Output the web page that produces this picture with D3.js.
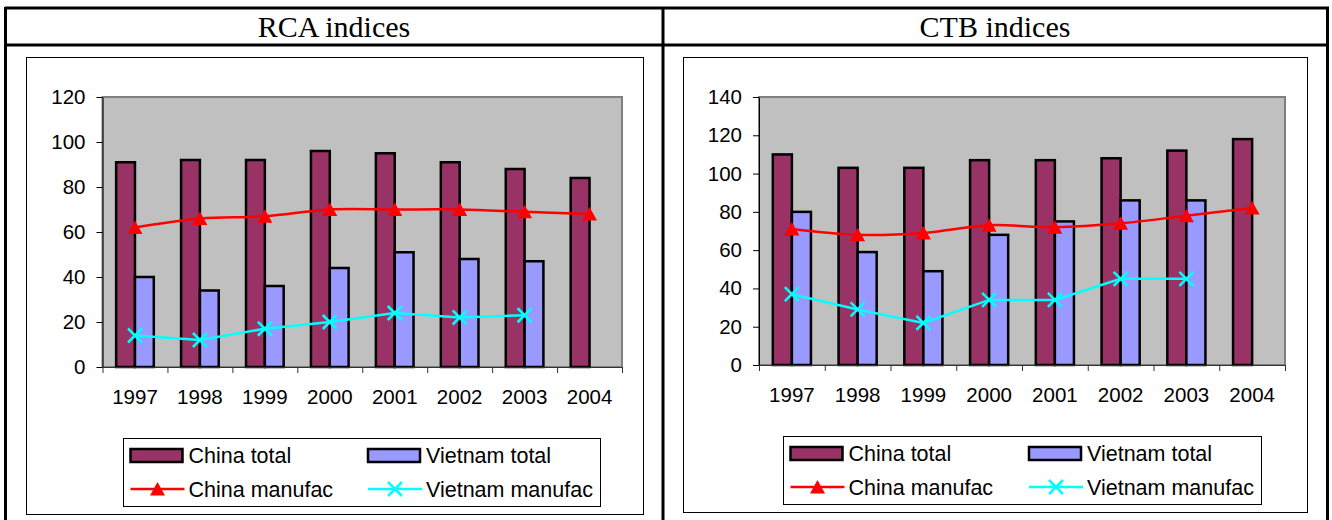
<!DOCTYPE html>
<html>
<head>
<meta charset="utf-8">
<script src="https://cdn.jsdelivr.net/npm/d3@7"></script>
<style>
  body { margin: 0; background: #fff; }
  svg { display: block; }
</style>
</head>
<body>
<svg id="chart" width="1332" height="520"></svg>
<script>
// data
const years = ['1997', '1998', '1999', '2000', '2001', '2002', '2003', '2004']

const rcaChinaTotal = [91, 92, 92, 96, 95, 91, 88, 84]
const rcaVietnamTotal = [40, 34, 36, 44, 51, 48, 47, null]
const rcaChinaManufac = [62, 66, 67, 70, 70, 70, 69, 68]
const rcaVietnamManufac = [14, 12, 17, 20, 24, 22, 23, null]
const rcaTicks = [0, 20, 40, 60, 80, 100, 120]

const ctbChinaTotal = [110, 103, 103, 107, 107, 108, 112, 118]
const ctbVietnamTotal = [80, 59, 49, 68, 75, 86, 86, null]
const ctbChinaManufac = [71, 68, 69, 73, 72, 74, 78, 82]
const ctbVietnamManufac = [37, 29, 22, 34, 34, 45, 45, null]
const ctbTicks = [0, 20, 40, 60, 80, 100, 120, 140]

const seriesNames = ['China total', 'Vietnam total', 'China manufac', 'Vietnam manufac']

const C_CHINA = '#993366'
const C_VIET = '#9999ff'
const C_CHINA_LINE = '#ff0000'
const C_VIET_LINE = '#00ffff'

const SANS = '"Liberation Sans", Arial, sans-serif'
const SERIF = '"Liberation Serif", "Times New Roman", serif'

const svg = d3.select('#chart')

// table frame
const frame = svg.append('g').attr('stroke', '#000').attr('stroke-width', 3)
frame.append('line').attr('x1', 5).attr('x2', 1329).attr('y1', 8).attr('y2', 8)
frame.append('line').attr('x1', 5).attr('x2', 1329).attr('y1', 45).attr('y2', 45)
frame.append('line').attr('x1', 5.5).attr('x2', 5.5).attr('y1', 7).attr('y2', 520)
frame.append('line').attr('x1', 663).attr('x2', 663).attr('y1', 7).attr('y2', 520)
frame.append('line').attr('x1', 1327.5).attr('x2', 1327.5).attr('y1', 7).attr('y2', 520)

svg.append('text').attr('x', 334).attr('y', 37).attr('text-anchor', 'middle')
  .attr('font-family', SERIF).attr('font-size', 30).text('RCA indices')
svg.append('text').attr('x', 995).attr('y', 37).attr('text-anchor', 'middle')
  .attr('font-family', SERIF).attr('font-size', 30).text('CTB indices')

function drawPanel(p) {
  const g = svg.append('g')

  // chart box
  g.append('rect')
    .attr('x', p.box[0] + 0.5).attr('y', p.box[1] + 0.5)
    .attr('width', p.box[2] - p.box[0]).attr('height', p.box[3] - p.box[1])
    .attr('fill', '#fff').attr('stroke', '#000').attr('stroke-width', 1)

  const [px0, py0, px1, py1] = p.plot
  const x = d3.scaleBand().domain(years).range([px0, px1]).padding(0)
  const y = d3.scaleLinear().domain([0, p.ticks[p.ticks.length - 1]]).range([py1, py0])
  const xi = d3.scaleLinear().domain([0, years.length]).range([px0, px1])

  // plot area
  g.append('rect')
    .attr('x', px0).attr('y', py0).attr('width', px1 - px0).attr('height', py1 - py0)
    .attr('fill', '#c0c0c0').attr('stroke', '#808080').attr('stroke-width', 2)

  // bars
  const bw = x.bandwidth() / 3.45
  const bars = g.append('g').attr('stroke', '#000').attr('stroke-width', 2.5)
  bars.selectAll('.cb').data(years).join('rect')
    .attr('x', d => x(d) + x.bandwidth() / 2 - bw)
    .attr('y', (d, i) => y(p.chinaTotal[i]))
    .attr('width', bw)
    .attr('height', (d, i) => y(0) - y(p.chinaTotal[i]))
    .attr('fill', C_CHINA)
  bars.selectAll('.vb').data(years.filter((d, i) => p.vietTotal[i] != null)).join('rect')
    .attr('x', d => x(d) + x.bandwidth() / 2)
    .attr('y', d => y(p.vietTotal[years.indexOf(d)]))
    .attr('width', bw)
    .attr('height', d => y(0) - y(p.vietTotal[years.indexOf(d)]))
    .attr('fill', C_VIET)

  // axes
  const yAxis = g.append('g').attr('transform', `translate(${px0},0)`)
    .call(d3.axisLeft(y).tickValues(p.ticks).tickSize(6).tickSizeOuter(0).tickPadding(11))
  yAxis.select('.domain').attr('stroke', '#000')
  yAxis.selectAll('text').attr('font-family', SANS).attr('font-size', 20.5).attr('fill', '#000')

  const xAxis = g.append('g').attr('transform', `translate(0,${py1})`)
    .call(d3.axisBottom(xi).tickValues(d3.range(years.length + 1)).tickSize(6).tickSizeOuter(0).tickFormat(''))
  xAxis.selectAll('line').attr('stroke', '#333')
  xAxis.select('.domain').attr('stroke', '#333')

  const xLab = g.append('g').attr('transform', `translate(0,${py1})`)
    .call(d3.axisBottom(x).tickSize(0).tickPadding(22))
  xLab.select('.domain').remove()
  xLab.selectAll('text').attr('font-family', SANS).attr('font-size', 20.5).attr('fill', '#000')

  const cx = (d, i) => x(years[i]) + x.bandwidth() / 2

  // manufacturing lines
  const lineSmooth = d3.line().defined(d => d != null).x(cx).y(d => y(d)).curve(d3.curveCatmullRom.alpha(0.5))
  const lineStraight = d3.line().defined(d => d != null).x(cx).y(d => y(d))
  g.append('path').datum(p.chinaManufac).attr('d', lineSmooth)
    .attr('fill', 'none').attr('stroke', C_CHINA_LINE).attr('stroke-width', 2.5)
  g.append('path').datum(p.vietManufac).attr('d', lineStraight)
    .attr('fill', 'none').attr('stroke', C_VIET_LINE).attr('stroke-width', 2.5)

  const tri = 'M0,-7L7.5,6.5L-7.5,6.5Z'
  const cross = 'M-7,-7L7,7M7,-7L-7,7'
  g.selectAll('.tri').data(p.chinaManufac).join('path')
    .attr('transform', (d, i) => `translate(${cx(d, i)},${y(d)})`)
    .attr('d', tri).attr('fill', C_CHINA_LINE)
  g.selectAll('.crs').data(p.vietManufac.map((v, i) => ({ v, i })).filter(d => d.v != null)).join('path')
    .attr('transform', d => `translate(${cx(d.v, d.i)},${y(d.v)})`)
    .attr('d', cross).attr('fill', 'none').attr('stroke', C_VIET_LINE).attr('stroke-width', 2.5)

  // legend
  const [lx0, ly0, lx1, ly1] = p.legend
  const lg = g.append('g')
  lg.append('rect').attr('x', lx0 + 0.5).attr('y', ly0 + 0.5)
    .attr('width', lx1 - lx0).attr('height', ly1 - ly0)
    .attr('fill', '#fff').attr('stroke', '#000').attr('stroke-width', 1)

  const cols = [lx0 + 7.5, lx0 + p.col2]
  const rows = [ly0 + 17, ly0 + 51]
  seriesNames.forEach((name, k) => {
    const sx = cols[k % 2]
    const sy = rows[Math.floor(k / 2)]
    if (k < 2) {
      lg.append('rect').attr('x', sx).attr('y', sy - 6).attr('width', 52).attr('height', 13)
        .attr('fill', k === 0 ? C_CHINA : C_VIET).attr('stroke', '#000').attr('stroke-width', 2.5)
    } else {
      const col = k === 2 ? C_CHINA_LINE : C_VIET_LINE
      lg.append('line').attr('x1', sx).attr('x2', sx + 54).attr('y1', sy).attr('y2', sy)
        .attr('stroke', col).attr('stroke-width', 2.5)
      lg.append('path').attr('transform', `translate(${sx + 27},${sy})`)
        .attr('d', k === 2 ? tri : cross)
        .attr('fill', k === 2 ? col : 'none')
        .attr('stroke', k === 2 ? 'none' : col).attr('stroke-width', 2.5)
    }
    lg.append('text').attr('x', sx + 58).attr('y', sy).attr('dy', '0.36em')
      .attr('font-family', SANS).attr('font-size', 21.5).attr('fill', '#000').text(name)
  })
}

drawPanel({
  box: [26, 57, 643, 514],
  plot: [102.5, 97, 622, 367],
  legend: [123, 438, 600, 506],
  col2: 245,
  ticks: rcaTicks,
  chinaTotal: rcaChinaTotal,
  vietTotal: rcaVietnamTotal,
  chinaManufac: rcaChinaManufac,
  vietManufac: rcaVietnamManufac
})

drawPanel({
  box: [683, 57, 1307, 512],
  plot: [759, 97, 1285, 365],
  legend: [783, 436, 1261, 504],
  col2: 246,
  ticks: ctbTicks,
  chinaTotal: ctbChinaTotal,
  vietTotal: ctbVietnamTotal,
  chinaManufac: ctbChinaManufac,
  vietManufac: ctbVietnamManufac
})
</script>
</body>
</html>
